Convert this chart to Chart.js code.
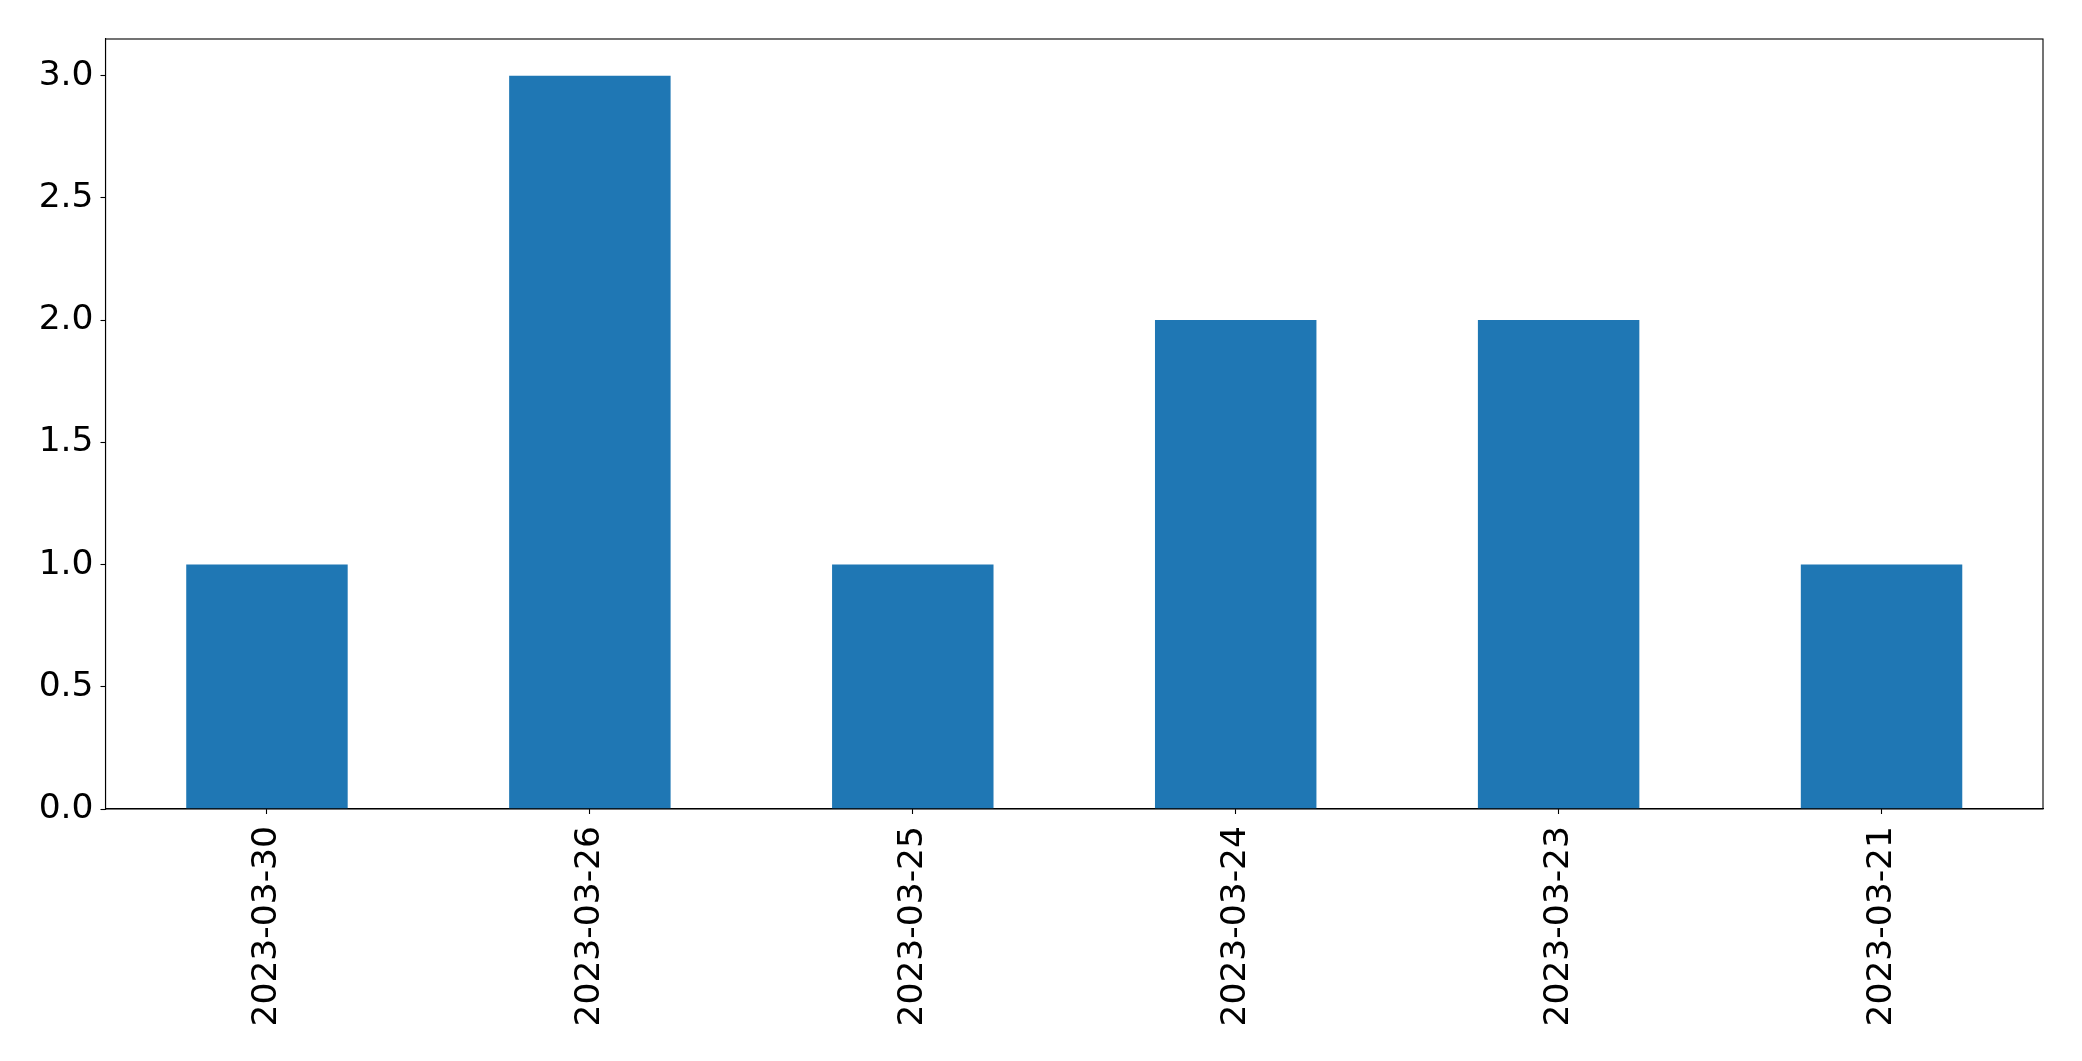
<!DOCTYPE html>
<html>
<head>
<meta charset="utf-8">
<script src="https://cdn.jsdelivr.net/npm/chart.js@4"></script>
<style>
  html, body { margin: 0; padding: 0; background: #ffffff; }
  #wrap { width: 2082px; height: 1061px; }
</style>
</head>
<body>
<div id="wrap"><canvas id="c" width="2082" height="1061"></canvas></div>
<script>
const categories = ["2023-03-30", "2023-03-26", "2023-03-25", "2023-03-24", "2023-03-23", "2023-03-21"];
const counts = [1, 3, 1, 2, 2, 1];
const yTicks = [0, 0.5, 1.0, 1.5, 2.0, 2.5, 3.0];
const yMax = 3.15;

const frame = {
  id: 'frame',
  afterDraw(chart) {
    const a = chart.chartArea, ctx = chart.ctx;
    ctx.save();
    ctx.strokeStyle = '#000';
    ctx.lineWidth = 1.1;
    ctx.strokeRect(a.left, a.top, a.right - a.left, a.bottom - a.top);
    ctx.restore();
  }
};

new Chart(document.getElementById('c'), {
  type: 'bar',
  data: {
    labels: categories,
    datasets: [{
      data: counts,
      backgroundColor: '#1f77b4',
      borderWidth: 0,
      categoryPercentage: 1.0,
      barPercentage: 0.5
    }]
  },
  options: {
    responsive: false,
    animation: false,
    devicePixelRatio: 1,
    layout: { padding: { top: 39, right: 39, left: 0, bottom: 0 } },
    plugins: { legend: { display: false }, tooltip: { enabled: false } },
    scales: {
      x: {
        offset: true,
        grid: { display: true, offset: false, drawOnChartArea: false, drawTicks: true, tickLength: 5, tickColor: '#000', tickWidth: 1.1 },
        border: { display: true, color: '#000', width: 1.1 },
        ticks: {
          color: '#000', minRotation: 90, maxRotation: 90, padding: 12, autoSkip: false,
          font: { family: 'DejaVu Sans', size: 34.5 }
        },
        afterFit(scale) { scale.height = 252; }
      },
      y: {
        min: 0, max: yMax,
        grid: { display: true, drawOnChartArea: false, drawTicks: true, tickLength: 5, tickColor: '#000', tickWidth: 1.1 },
        border: { display: true, color: '#000', width: 1.1 },
        afterBuildTicks(scale) { scale.ticks = yTicks.map(v => ({ value: v })); },
        ticks: {
          color: '#000', padding: 7,
          font: { family: 'DejaVu Sans', size: 34.5 },
          callback: (v) => Number(v).toFixed(1)
        },
        afterFit(scale) { scale.width = 105.5; }
      }
    }
  },
  plugins: [frame]
});
</script>
</body>
</html>
